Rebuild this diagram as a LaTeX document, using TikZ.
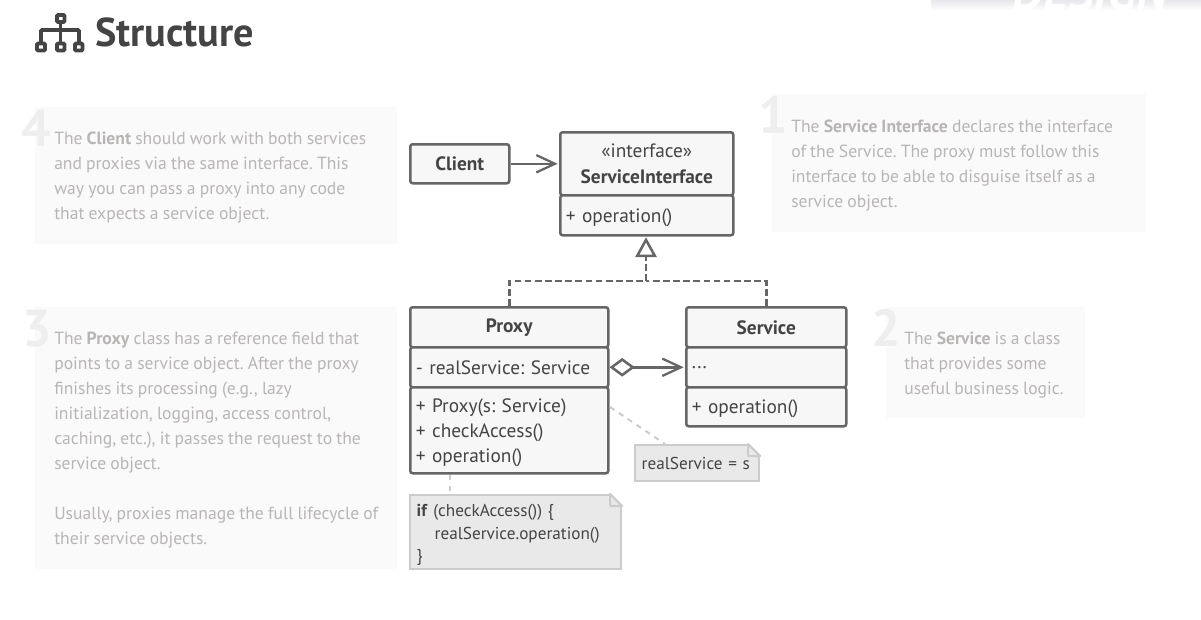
\documentclass[tikz,border=0pt]{standalone}
\usepackage{fontspec}
\setmainfont[WordSpace=0.88]{PT Sans}
\usetikzlibrary{arrows.meta,positioning}

\definecolor{umlline}{HTML}{666666}
\definecolor{umlfill}{HTML}{F7F7F7}
\definecolor{umltext}{HTML}{444444}
\definecolor{noteline}{HTML}{CCCCCC}
\definecolor{notefill}{HTML}{E9E9E9}
\definecolor{paneltext}{HTML}{B9B5B5}
\definecolor{panelfill}{HTML}{FAFAFA}
\definecolor{panelnum}{HTML}{EEEEEE}
\definecolor{bandtop}{HTML}{E2E2E8}

\tikzset{
  compart/.style 2 args={draw=umlline, fill=umlfill, line width=1.9pt, rounded corners=1.8pt,
    text=umltext, inner xsep=4.2pt, inner ysep=0pt, align=left, text width=#1-8.4pt, minimum height=#2,
    font=\fontsize{14.5}{18.75}\selectfont},
  title/.style={align=center, font=\fontsize{14.5}{19.5}\selectfont},
  opstext/.style={text depth=0pt},
  note/.style 2 args={draw=noteline, fill=notefill, line width=1.6pt, text=umltext, inner xsep=5pt,
    inner ysep=0pt, align=left, text width=#1-10pt, minimum height=#2, anchor=north west,
    font=\fontsize{12.9}{16.9}\selectfont},
  panel/.style={anchor=north west, inner sep=0pt, align=left, text=paneltext,
    font=\fontsize{13.2}{18.75}\selectfont},
  panelnumber/.style={anchor=base, inner sep=0pt, text=panelnum, font=\fontsize{39}{39}\selectfont\bfseries},
  notelink/.style={draw=noteline, line width=1.5pt, dash pattern=on 4pt off 4pt},
}

\newcommand{\foldcorner}[1]{
  \fill[white] ([xshift=-9pt]#1.north east) -- (#1.north east) -- ([yshift=-9pt]#1.north east) -- cycle;
  \draw[noteline, line width=1.6pt, fill=notefill, line join=round]
    ([xshift=-9pt]#1.north east) -- ([xshift=-9pt,yshift=-9pt]#1.north east)
    -- ([yshift=-9pt]#1.north east) -- cycle;
}

\begin{document}
\frenchspacing
\begin{tikzpicture}[x=0.75pt, y=-0.75pt]
  \useasboundingbox (0,0) rectangle (1201,619);

  % Band at the top edge
  \begin{scope}
    \clip (931,0) rectangle (1201,10);
    \shade[top color=bandtop, bottom color=white] (931,-2) rectangle (1201,10);
    \node (bandtext) [anchor=base, text=white, inner sep=0pt, font=\fontsize{37}{37}\selectfont\bfseries\itshape]
      at (1090,10) {DESIGN};
  \end{scope}

  % Title with icon
  \node (heading) [anchor=base west, inner sep=0pt, text=umltext, font=\fontsize{30.2}{32}\selectfont\bfseries]
    at (95,46) {Structure};
  \begin{scope}[draw=umltext, line width=2.8pt, rounded corners=0.8pt]
    \draw (57,15) rectangle (64.5,22);
    \draw (37,43.5) rectangle (45,50.5);
    \draw (57,43.5) rectangle (64.5,50.5);
    \draw (75,43.5) rectangle (82.5,50.5);
    \draw (60.5,22) -- (60.5,43.5);
    \draw (41,43.5) -- (41,30) -- (79,30) -- (79,43.5);
  \end{scope}

  % Panels
  \fill[panelfill] (35,107) rectangle (397,244);
  \fill[panelfill] (772,94) rectangle (1146,232);
  \fill[panelfill] (35,307) rectangle (397,569);
  \fill[panelfill] (886,307) rectangle (1085,418);

  % Panel numbers
  \node (numfour) [panelnumber] at (36,146) {4};
  \node (numone) [panelnumber] at (773,133) {1};
  \node (numthree) [panelnumber] at (37,346) {3};
  \node (numtwo) [panelnumber] at (886,346) {2};

  % Panel texts
  \node (textfour) [panel] at (54,132) {The \textbf{Client} should work with both services\\
    and proxies via the same interface. This\\
    way you can pass a proxy into any code\\
    that expects a service object.};
  \node (textone) [panel] at (791,120) {The \textbf{Service Interface} declares the interface\\
    of the Service. The proxy must follow this\\
    interface to be able to disguise itself as a\\
    service object.};
  \node (textthree) [panel] at (54,332) {The \textbf{Proxy} class has a reference field that\\
    points to a service object. After the proxy\\
    finishes its processing (e.g., lazy\\
    initialization, logging, access control,\\
    caching, etc.), it passes the request to the\\
    service object.\\[18.75pt]
    Usually, proxies manage the full lifecycle of\\
    their service objects.};
  \node (texttwo) [panel] at (904,332) {The \textbf{Service} is a class\\
    that provides some\\
    useful business logic.};

  % Client
  \node (client) [compart={74.25pt}{29.25pt}, title, anchor=north west] at (409,143) {\textbf{Client}};

  % ServiceInterface
  \node (ifacehead) [compart={129.75pt}{47.25pt}, title, anchor=north west] at (559,131)
    {«interface»\\ \textbf{ServiceInterface}};
  \node (ifaceops) [compart={129.75pt}{30pt}, opstext, below=-1.9pt of ifacehead] {+ operation()};

  % Proxy
  \node (proxyhead) [compart={148.5pt}{30pt}, title, anchor=north west] at (409,306) {\textbf{Proxy}};
  \node (proxyfield) [compart={148.5pt}{30pt}, below=-1.9pt of proxyhead] {- realService: Service};
  \node (proxyops) [compart={148.5pt}{64.5pt}, below=-1.9pt of proxyfield]
    {\rule{0pt}{13.5pt}+ Proxy(s: Service)\\ + checkAccess()\\ + operation()};

  % Service
  \node (servicehead) [compart={120pt}{30pt}, title, anchor=north west] at (685,306) {\textbf{Service}};
  \node (servicefield) [compart={120pt}{30pt}, below=-1.9pt of servicehead] {...};
  \node (serviceops) [compart={120pt}{29.25pt}, opstext, below=-1.9pt of servicefield] {+ operation()};

  % Notes
  \node (noteset) [note={93pt}{27pt}] at (634,444) {realService = s};
  \foldcorner{noteset}
  \node (notecall) [note={158.25pt}{55.5pt}] at (409,494)
    {\rule{0pt}{14pt}\textbf{if} (checkAccess()) \{\\ \hspace*{13.5pt}realService.operation()\\ \}};
  \foldcorner{notecall}

  % Connectors
  \coordinate (join) at (646,281);
  \coordinate (linkset) at (610,407);
  \coordinate (linkcall) at (450,475);
  \draw[-{Straight Barb[length=14pt,width=13pt,line width=1.7pt]}, umlline, line width=1.9pt, shorten >=1pt]
    (client) -- (ifacehead.west |- client);
  \draw[umlline, line width=1.9pt, dash pattern=on 5pt off 2.6pt] (proxyhead.north) |- (join);
  \draw[umlline, line width=1.9pt, dash pattern=on 5pt off 2.6pt] (servicehead.north) |- (join);
  \draw[-{Triangle[open,length=15pt,width=16pt,line width=1.9pt]}, umlline, line width=1.9pt,
    dash pattern=on 5pt off 2.6pt, shorten >=0.5pt] (join) -- (ifaceops.south -| join);
  \draw[{Diamond[open,length=19pt,width=14pt,line width=1.9pt]}-{Straight Barb[length=14pt,width=13pt,line width=1.7pt]},
    umlline, line width=1.9pt, shorten >=1pt] (proxyfield) -- (servicefield);
  \draw[notelink] (linkset) -- (noteset.north -| 665,0);
  \draw[notelink] (linkcall) -- (notecall.north -| linkcall);
\end{tikzpicture}
\end{document}
